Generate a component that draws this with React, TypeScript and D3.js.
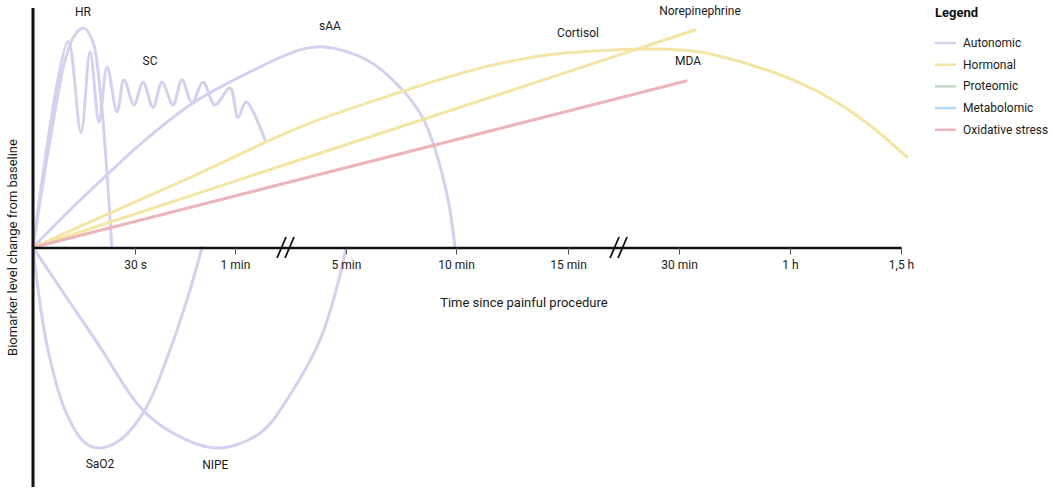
import * as d3 from "d3";
import { useEffect, useRef } from "react";
import * as React from "react";

// x axis: seconds since the procedure (axis is broken, so each tick gets its own segment)
const tickSeconds = [0, 30, 60, 300, 600, 900, 1800, 3600, 5400];
const tickLabels = ["", "30 s", "1 min", "5 min", "10 min", "15 min", "30 min", "1 h", "1,5 h"];

const groups = ["Autonomic", "Hormonal", "Proteomic", "Metabolomic", "Oxidative stress"];
const groupColors = ["#d3d1ef", "#f2e5a5", "#c5d8c5", "#b6d7f2", "#edb5ba"];

// [seconds, change from baseline]
const hr: [number, number][] = [
    [0, 0], [3.5, 32], [6.5, 57], [9.4, 78], [12.4, 89], [15, 91.6],
    [17.6, 86], [19.7, 66], [21.5, 36], [23.2, 0],
];
const sc: [number, number][] = [
    [0, 0], [10.3, 86], [14.1, 48], [16.8, 81.6], [19.4, 52.4], [21.8, 75.4],
    [24.7, 56.6], [26.8, 70], [29.7, 59.5], [32.4, 69], [35.4, 58.5], [38.1, 69],
    [41.4, 59.5], [44.1, 70], [47.1, 60.5], [50.4, 69], [54, 59.5], [58.5, 66.6],
    [66.5, 54.3], [83.8, 60.7], [124.9, 44.9],
];
const saa: [number, number][] = [
    [0, 0], [10.9, 15.7], [22.6, 31.5], [32.4, 44.1], [47.4, 60.3], [92.4, 73.3],
    [200.5, 82.5], [254.6, 83.7], [357.3, 78.3], [447.3, 66.9], [510, 54],
    [537.3, 43.6], [564.5, 29.4], [583.6, 15.7], [597.3, 0],
];
const sao2: [number, number][] = [
    [0, 0], [1.5, -17.7], [4.4, -42.8], [9.4, -67.8], [15.3, -81.6], [19.7, -83.7],
    [25.6, -80.4], [33, -67.8], [40.5, -42.8], [46.5, -17.7], [50.1, 0],
];
const nipe: [number, number][] = [
    [0, 0], [10.9, -23], [19.7, -41.5], [31.5, -66.6], [41.4, -77.5], [54.6, -83.7],
    [114.1, -77.5], [185.4, -59.5], [243.8, -38.6], [280.5, -16.5], [300, 0],
];
const cortisol: [number, number][] = [
    [0, 0], [22.6, 14.4], [49.5, 31.1], [200.5, 50.3], [482.7, 66.6], [664.3, 74.9],
    [843.8, 80.4], [1264.9, 82.5], [1564.9, 82.9], [2140.5, 81.6], [3226.9, 74.1],
    [3762.2, 68.7], [4297.3, 61.6], [4848.6, 52], [5497.3, 37.8],
];
const norepinephrine: [number, number][] = [[0, 0], [2059.5, 90.8]];
const mda: [number, number][] = [[0, 0], [1913.5, 69.5]];

const series = [
    { name: "SaO2", group: 0, values: sao2 },
    { name: "NIPE", group: 0, values: nipe },
    { name: "sAA", group: 0, values: saa },
    { name: "HR", group: 0, values: hr },
    { name: "SC", group: 0, values: sc },
    { name: "Cortisol", group: 1, values: cortisol },
    { name: "Norepinephrine", group: 1, values: norepinephrine },
    { name: "MDA", group: 4, values: mda },
];

// label centres, in data units
const labels: { text: string; at: [number, number] }[] = [
    { text: "HR", at: [14.7, 98.3] },
    { text: "SC", at: [34.5, 77.9] },
    { text: "sAA", at: [265.4, 92.5] },
    { text: "Cortisol", at: [981, 89.6] },
    { text: "Norepinephrine", at: [2140.5, 98.7] },
    { text: "MDA", at: [1946, 77.9] },
    { text: "SaO2", at: [19.7, -90.4] },
    { text: "NIPE", at: [54.1, -90.8] },
];

const W = 1053;
const H = 491;
const FONT = "Roboto, 'Noto Sans', sans-serif";

function App() {
    const svgRef = useRef<SVGSVGElement | null>(null);

    useEffect(() => {
        const svg = d3.select(svgRef.current).html("");

        const left = 33;
        const segWidths = [102, 100, 111, 110, 112, 111, 111, 111];
        const xRange = [left];
        segWidths.forEach(w => xRange.push(xRange[xRange.length - 1] + w));

        const x = d3.scaleLinear().domain(tickSeconds).range(xRange);
        const y = d3.scaleLinear().domain([-100, 100]).range([487, 8]);

        const line = d3.line<[number, number]>()
            .x(d => x(d[0]))
            .y(d => y(d[1]))
            .curve(d3.curveCatmullRom.alpha(0.5));

        svg.append("g")
            .selectAll("path")
            .data(series)
            .enter()
            .append("path")
            .attr("d", d => line(d.values))
            .attr("fill", "none")
            .attr("stroke", d => groupColors[d.group])
            .attr("stroke-width", 3)
            .attr("stroke-linecap", "round");

        svg.append("g")
            .selectAll("text")
            .data(labels)
            .enter()
            .append("text")
            .attr("x", d => x(d.at[0]))
            .attr("y", d => y(d.at[1]))
            .attr("text-anchor", "middle")
            .attr("dominant-baseline", "central")
            .style("font-family", FONT)
            .style("font-size", "12px")
            .attr("fill", "#1a1a1a")
            .text(d => d.text);

        // x axis
        const xAxis = svg.append("g")
            .attr("transform", `translate(0,${y(0)})`)
            .call(d3.axisBottom(x)
                .tickValues(tickSeconds.slice(1))
                .tickFormat((_, i) => tickLabels[i + 1])
                .tickSize(7)
                .tickSizeOuter(0)
                .tickPadding(6));
        xAxis.select(".domain").attr("stroke", "#111").attr("stroke-width", 2.5);
        xAxis.selectAll(".tick line").attr("stroke", "#555").attr("stroke-width", 1);
        xAxis.selectAll(".tick text")
            .style("font-family", FONT)
            .style("font-size", "12px")
            .attr("fill", "#1a1a1a");

        // axis breaks
        const breaks = [[2, 3], [5, 6]].map(([a, b]) => {
            const xa = x(tickSeconds[a]);
            const xb = x(tickSeconds[b]);
            return xa + 0.46 * (xb - xa);
        });
        breaks.forEach(cx => {
            [-4.5, 3.5].forEach(off => {
                svg.append("line")
                    .attr("x1", cx + off - 4.5)
                    .attr("y1", y(0) + 10.5)
                    .attr("x2", cx + off + 4.5)
                    .attr("y2", y(0) - 10.5)
                    .attr("stroke", "#111")
                    .attr("stroke-width", 1.8);
            });
        });

        // y axis
        svg.append("line")
            .attr("x1", left).attr("x2", left)
            .attr("y1", y.range()[1]).attr("y2", y.range()[0])
            .attr("stroke", "#111")
            .attr("stroke-width", 3);

        svg.append("text")
            .attr("x", x(782))
            .attr("y", 302)
            .attr("text-anchor", "middle")
            .attr("dominant-baseline", "central")
            .style("font-family", FONT)
            .style("font-size", "13px")
            .attr("fill", "#1a1a1a")
            .text("Time since painful procedure");

        svg.append("text")
            .attr("transform", `translate(12,${y(0)}) rotate(-90)`)
            .attr("text-anchor", "middle")
            .attr("dominant-baseline", "central")
            .style("font-family", FONT)
            .style("font-size", "13px")
            .attr("fill", "#1a1a1a")
            .text("Biomarker level change from baseline");

        // legend
        const legend = svg.append("g").attr("transform", "translate(935,12)");
        legend.append("text")
            .attr("dominant-baseline", "central")
            .style("font-family", FONT)
            .style("font-size", "13px")
            .style("font-weight", "bold")
            .attr("fill", "#111")
            .text("Legend");
        const item = legend.selectAll(".item")
            .data(groups)
            .enter()
            .append("g")
            .attr("class", "item")
            .attr("transform", (_, i) => `translate(0,${31 + i * 21.7})`);
        item.append("line")
            .attr("x1", 0).attr("x2", 21)
            .attr("stroke", (_, i) => groupColors[i])
            .attr("stroke-width", 2.5);
        item.append("text")
            .attr("x", 28)
            .attr("dominant-baseline", "central")
            .style("font-family", FONT)
            .style("font-size", "12px")
            .attr("fill", "#1a1a1a")
            .text(d => d);
    }, []);

    return (
        <svg
            ref={svgRef}
            width={W}
            height={H}
            style={{ position: "absolute", left: 0, top: 0, background: "#fff" }}
        />
    );
}

export default App;
